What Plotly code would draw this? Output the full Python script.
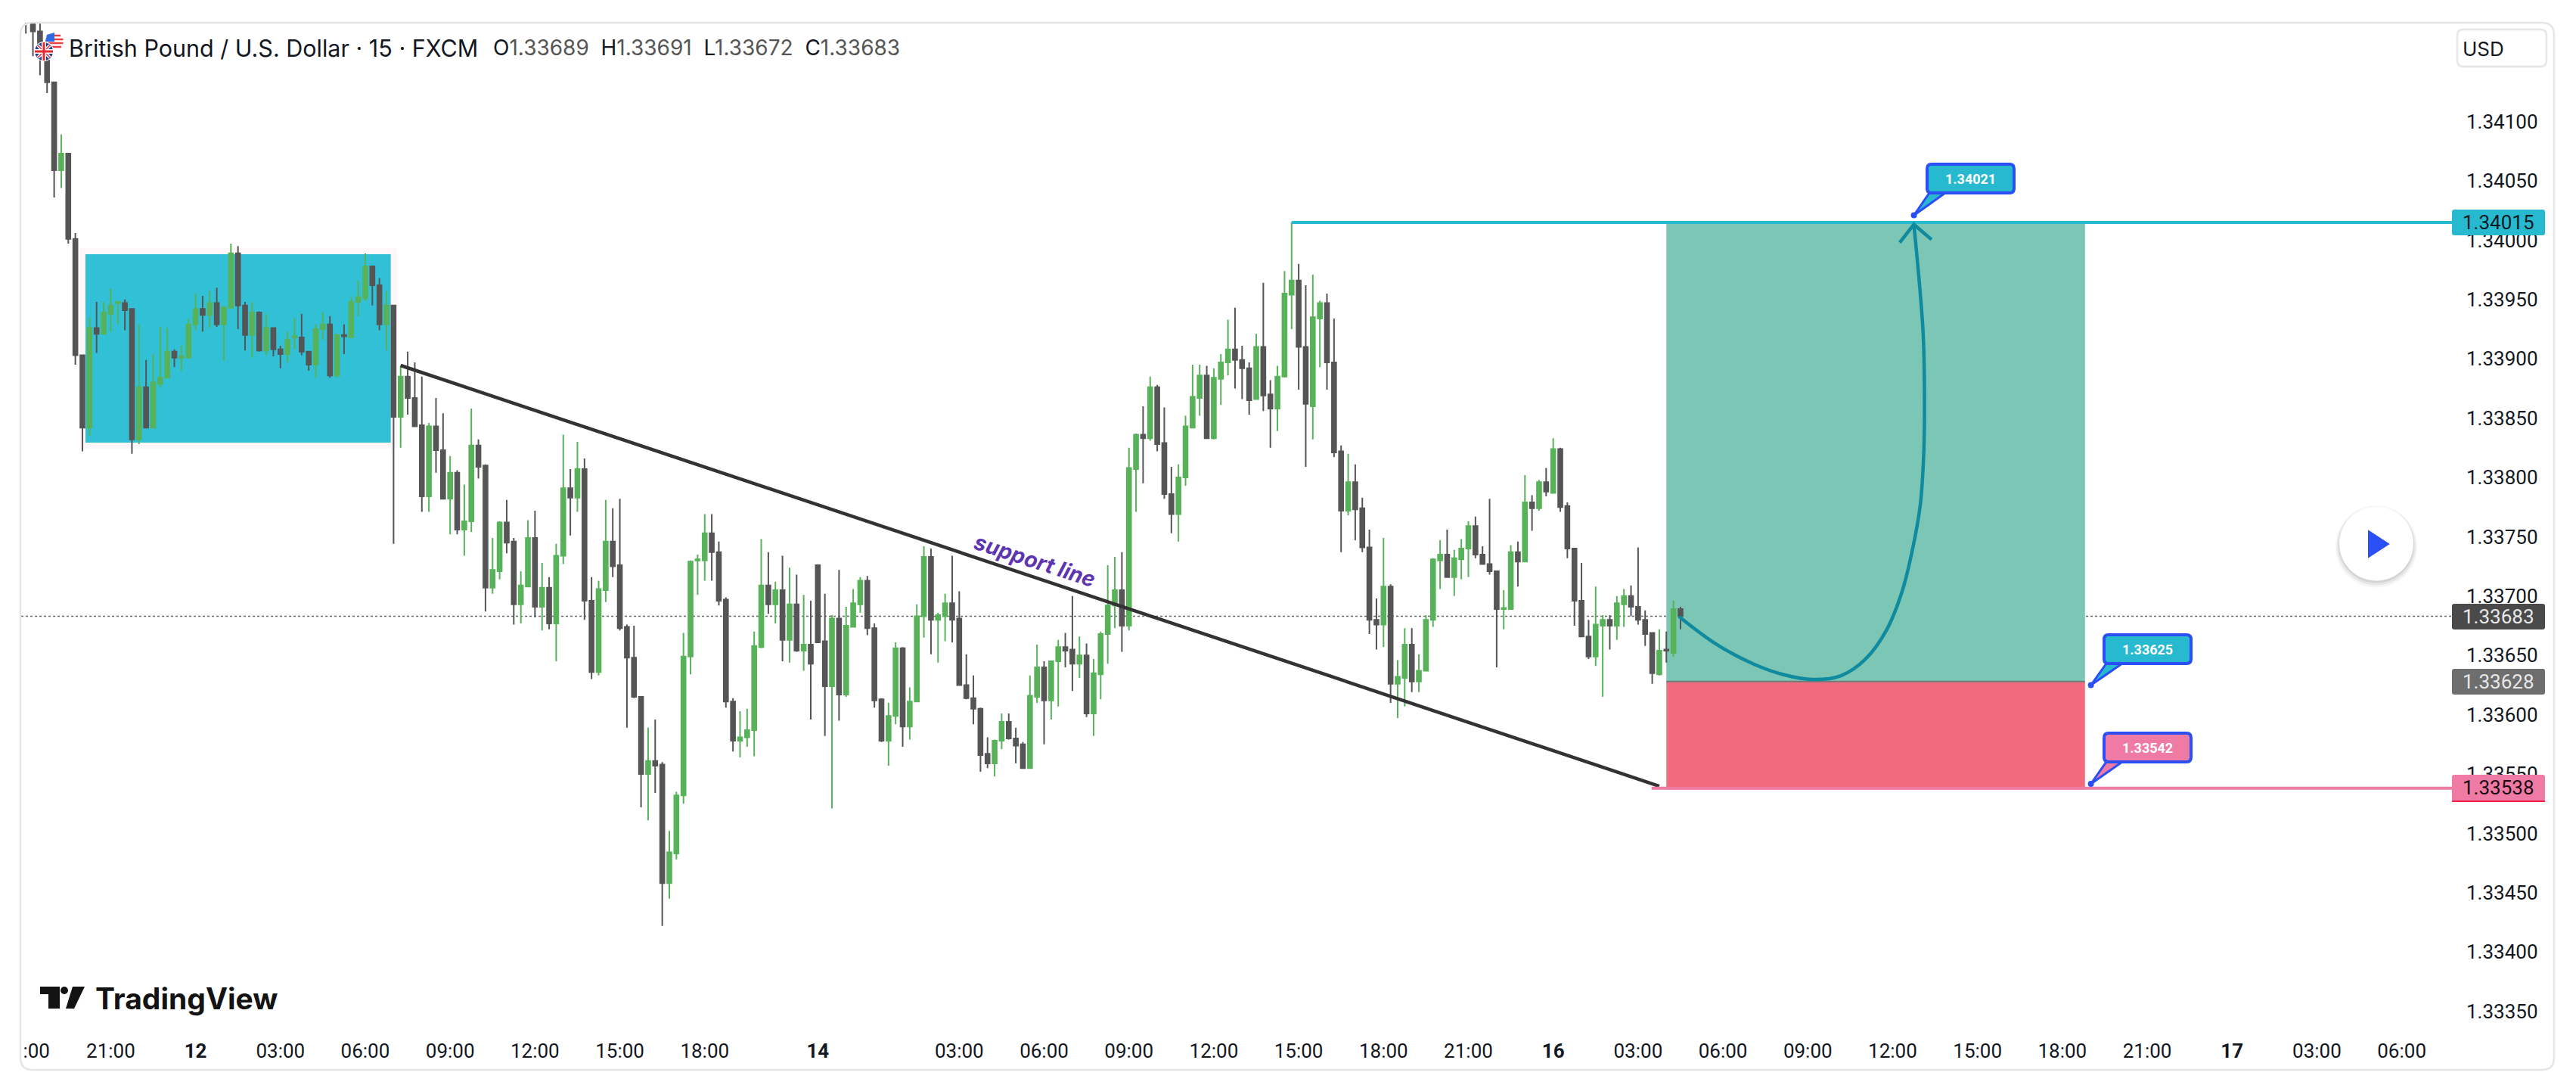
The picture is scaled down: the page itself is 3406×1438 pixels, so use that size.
import plotly.graph_objects as go

# GBP/USD 15m bars. x is the bar index.
opens = [
    1.34200, 1.34190, 1.34176, 1.34157, 1.34133, 1.34059, 1.34073, 1.34001, 1.33903, 1.33842,
    1.33926, 1.33921, 1.33938, 1.33947, 1.33947, 1.33942, 1.33832, 1.33876, 1.33842, 1.33879,
    1.33884, 1.33906, 1.33901, 1.33901, 1.33929, 1.33942, 1.33937, 1.33947, 1.33929, 1.33943,
    1.33989, 1.33945, 1.33920, 1.33939, 1.33907, 1.33926, 1.33908, 1.33904, 1.33918, 1.33918,
    1.33906, 1.33895, 1.33925, 1.33929, 1.33886, 1.33920, 1.33918, 1.33948, 1.33951, 1.33978,
    1.33962, 1.33929, 1.33945, 1.33851, 1.33885, 1.33867, 1.33844, 1.33784, 1.33843, 1.33823,
    1.33782, 1.33804, 1.33756, 1.33763, 1.33827, 1.33810, 1.33707, 1.33721, 1.33762, 1.33746,
    1.33693, 1.33708, 1.33749, 1.33691, 1.33707, 1.33677, 1.33734, 1.33791, 1.33783, 1.33807,
    1.33696, 1.33636, 1.33705, 1.33746, 1.33726, 1.33674, 1.33648, 1.33615, 1.33550, 1.33561,
    1.33558, 1.33458, 1.33483, 1.33532, 1.33649, 1.33730, 1.33730, 1.33753, 1.33737, 1.33697,
    1.33611, 1.33578, 1.33581, 1.33587, 1.33657, 1.33709, 1.33693, 1.33705, 1.33663, 1.33693,
    1.33654, 1.33659, 1.33726, 1.33662, 1.33624, 1.33681, 1.33617, 1.33674, 1.33693, 1.33713,
    1.33673, 1.33613, 1.33578, 1.33599, 1.33656, 1.33590, 1.33611, 1.33683, 1.33733, 1.33680,
    1.33683, 1.33694, 1.33681, 1.33625, 1.33614, 1.33605, 1.33567, 1.33559, 1.33578, 1.33594,
    1.33580, 1.33575, 1.33555, 1.33615, 1.33640, 1.33612, 1.33645, 1.33657, 1.33655, 1.33643,
    1.33650, 1.33601, 1.33634, 1.33668, 1.33692, 1.33705, 1.33675, 1.33807, 1.33836, 1.33833,
    1.33876, 1.33829, 1.33786, 1.33769, 1.33800, 1.33842, 1.33867, 1.33886, 1.33833, 1.33883,
    1.33897, 1.33908, 1.33899, 1.33892, 1.33866, 1.33910, 1.33870, 1.33858, 1.33885, 1.33954,
    1.33966, 1.33910, 1.33860, 1.33934, 1.33947, 1.33897, 1.33822, 1.33772, 1.33796, 1.33774,
    1.33741, 1.33680, 1.33676, 1.33708, 1.33626, 1.33631, 1.33659, 1.33628, 1.33637, 1.33680,
    1.33730, 1.33735, 1.33716, 1.33731, 1.33740, 1.33759, 1.33735, 1.33727, 1.33721, 1.33689,
    1.33689, 1.33737, 1.33729, 1.33779, 1.33774, 1.33796, 1.33787, 1.33824, 1.33776, 1.33740,
    1.33696, 1.33666, 1.33649, 1.33675, 1.33680, 1.33675, 1.33693, 1.33700, 1.33691, 1.33680,
    1.33669, 1.33634, 1.33655, 1.33652, 1.33689,
]
highs = [
    1.34210, 1.34195, 1.34190, 1.34160, 1.34133, 1.34089, 1.34073, 1.34006, 1.33903, 1.33935,
    1.33948, 1.33948, 1.33959, 1.33948, 1.33950, 1.33942, 1.33929, 1.33899, 1.33904, 1.33927,
    1.33926, 1.33908, 1.33911, 1.33934, 1.33955, 1.33953, 1.33957, 1.33960, 1.33945, 1.33997,
    1.33995, 1.33948, 1.33948, 1.33940, 1.33938, 1.33926, 1.33911, 1.33923, 1.33934, 1.33938,
    1.33906, 1.33929, 1.33939, 1.33936, 1.33921, 1.33929, 1.33952, 1.33966, 1.33989, 1.33978,
    1.33968, 1.33957, 1.33945, 1.33894, 1.33906, 1.33897, 1.33885, 1.33846, 1.33867, 1.33854,
    1.33818, 1.33806, 1.33794, 1.33858, 1.33832, 1.33811, 1.33749, 1.33763, 1.33781, 1.33749,
    1.33721, 1.33764, 1.33772, 1.33728, 1.33716, 1.33744, 1.33836, 1.33807, 1.33830, 1.33816,
    1.33716, 1.33713, 1.33781, 1.33774, 1.33782, 1.33676, 1.33675, 1.33615, 1.33589, 1.33596,
    1.33560, 1.33502, 1.33535, 1.33669, 1.33730, 1.33735, 1.33769, 1.33769, 1.33746, 1.33699,
    1.33614, 1.33603, 1.33605, 1.33670, 1.33748, 1.33737, 1.33712, 1.33734, 1.33724, 1.33718,
    1.33701, 1.33696, 1.33726, 1.33702, 1.33684, 1.33722, 1.33691, 1.33706, 1.33716, 1.33717,
    1.33677, 1.33614, 1.33610, 1.33661, 1.33657, 1.33623, 1.33693, 1.33742, 1.33740, 1.33686,
    1.33702, 1.33734, 1.33704, 1.33651, 1.33633, 1.33606, 1.33581, 1.33579, 1.33601, 1.33601,
    1.33589, 1.33577, 1.33633, 1.33659, 1.33645, 1.33645, 1.33663, 1.33669, 1.33700, 1.33666,
    1.33660, 1.33647, 1.33670, 1.33726, 1.33733, 1.33737, 1.33825, 1.33837, 1.33860, 1.33885,
    1.33878, 1.33859, 1.33809, 1.33811, 1.33852, 1.33895, 1.33895, 1.33894, 1.33892, 1.33904,
    1.33933, 1.33943, 1.33911, 1.33897, 1.33921, 1.33964, 1.33882, 1.33894, 1.33974, 1.34015,
    1.33980, 1.33962, 1.33971, 1.33949, 1.33955, 1.33934, 1.33827, 1.33820, 1.33811, 1.33783,
    1.33756, 1.33698, 1.33749, 1.33710, 1.33646, 1.33673, 1.33673, 1.33651, 1.33684, 1.33732,
    1.33747, 1.33756, 1.33739, 1.33748, 1.33763, 1.33767, 1.33742, 1.33782, 1.33721, 1.33705,
    1.33743, 1.33746, 1.33802, 1.33785, 1.33798, 1.33808, 1.33833, 1.33825, 1.33779, 1.33740,
    1.33728, 1.33680, 1.33708, 1.33684, 1.33684, 1.33700, 1.33706, 1.33709, 1.33741, 1.33688,
    1.33669, 1.33672, 1.33670, 1.33696, 1.33691,
]
lows = [
    1.34174, 1.34155, 1.34139, 1.34124, 1.34036, 1.34044, 1.33997, 1.33895, 1.33822, 1.33835,
    1.33905, 1.33921, 1.33923, 1.33929, 1.33924, 1.33820, 1.33828, 1.33842, 1.33842, 1.33876,
    1.33884, 1.33893, 1.33890, 1.33901, 1.33924, 1.33923, 1.33926, 1.33927, 1.33898, 1.33943,
    1.33925, 1.33907, 1.33901, 1.33906, 1.33903, 1.33902, 1.33892, 1.33897, 1.33908, 1.33903,
    1.33890, 1.33884, 1.33916, 1.33884, 1.33884, 1.33904, 1.33918, 1.33936, 1.33949, 1.33945,
    1.33924, 1.33907, 1.33744, 1.33825, 1.33853, 1.33843, 1.33771, 1.33771, 1.33804, 1.33782,
    1.33752, 1.33752, 1.33734, 1.33754, 1.33799, 1.33687, 1.33702, 1.33714, 1.33736, 1.33676,
    1.33677, 1.33708, 1.33682, 1.33671, 1.33672, 1.33645, 1.33727, 1.33751, 1.33771, 1.33680,
    1.33630, 1.33633, 1.33695, 1.33716, 1.33671, 1.33589, 1.33614, 1.33522, 1.33511, 1.33534,
    1.33422, 1.33445, 1.33478, 1.33525, 1.33634, 1.33701, 1.33713, 1.33713, 1.33692, 1.33606,
    1.33569, 1.33564, 1.33573, 1.33565, 1.33656, 1.33685, 1.33677, 1.33645, 1.33644, 1.33653,
    1.33637, 1.33596, 1.33661, 1.33582, 1.33521, 1.33595, 1.33615, 1.33674, 1.33686, 1.33667,
    1.33606, 1.33577, 1.33557, 1.33592, 1.33573, 1.33579, 1.33611, 1.33665, 1.33651, 1.33644,
    1.33662, 1.33661, 1.33625, 1.33613, 1.33592, 1.33552, 1.33555, 1.33548, 1.33571, 1.33579,
    1.33559, 1.33555, 1.33555, 1.33610, 1.33575, 1.33596, 1.33607, 1.33640, 1.33620, 1.33631,
    1.33598, 1.33582, 1.33613, 1.33643, 1.33673, 1.33653, 1.33671, 1.33771, 1.33795, 1.33831,
    1.33822, 1.33782, 1.33753, 1.33746, 1.33793, 1.33842, 1.33852, 1.33833, 1.33832, 1.33861,
    1.33886, 1.33875, 1.33866, 1.33853, 1.33866, 1.33856, 1.33825, 1.33839, 1.33885, 1.33925,
    1.33874, 1.33809, 1.33832, 1.33893, 1.33874, 1.33817, 1.33737, 1.33768, 1.33747, 1.33737,
    1.33668, 1.33655, 1.33657, 1.33610, 1.33597, 1.33607, 1.33619, 1.33619, 1.33637, 1.33674,
    1.33706, 1.33716, 1.33700, 1.33714, 1.33716, 1.33732, 1.33727, 1.33718, 1.33640, 1.33672,
    1.33689, 1.33708, 1.33729, 1.33755, 1.33772, 1.33784, 1.33787, 1.33771, 1.33732, 1.33675,
    1.33666, 1.33647, 1.33641, 1.33615, 1.33655, 1.33663, 1.33674, 1.33683, 1.33676, 1.33658,
    1.33626, 1.33633, 1.33644, 1.33649, 1.33672,
]
closes = [
    1.34190, 1.34176, 1.34157, 1.34133, 1.34059, 1.34073, 1.34001, 1.33903, 1.33842, 1.33926,
    1.33921, 1.33939, 1.33945, 1.33948, 1.33941, 1.33832, 1.33876, 1.33842, 1.33880, 1.33884,
    1.33906, 1.33901, 1.33902, 1.33929, 1.33942, 1.33937, 1.33947, 1.33929, 1.33943, 1.33989,
    1.33945, 1.33920, 1.33939, 1.33907, 1.33926, 1.33908, 1.33904, 1.33916, 1.33919, 1.33906,
    1.33895, 1.33925, 1.33929, 1.33886, 1.33920, 1.33919, 1.33948, 1.33952, 1.33978, 1.33962,
    1.33929, 1.33945, 1.33851, 1.33885, 1.33867, 1.33843, 1.33784, 1.33843, 1.33823, 1.33782,
    1.33804, 1.33756, 1.33763, 1.33827, 1.33809, 1.33707, 1.33722, 1.33762, 1.33745, 1.33693,
    1.33709, 1.33749, 1.33691, 1.33707, 1.33677, 1.33734, 1.33791, 1.33783, 1.33807, 1.33696,
    1.33636, 1.33706, 1.33746, 1.33725, 1.33673, 1.33648, 1.33615, 1.33550, 1.33561, 1.33557,
    1.33458, 1.33484, 1.33532, 1.33649, 1.33729, 1.33731, 1.33753, 1.33737, 1.33696, 1.33611,
    1.33578, 1.33581, 1.33587, 1.33658, 1.33709, 1.33693, 1.33705, 1.33663, 1.33693, 1.33654,
    1.33659, 1.33643, 1.33661, 1.33624, 1.33681, 1.33617, 1.33675, 1.33694, 1.33713, 1.33673,
    1.33612, 1.33578, 1.33599, 1.33656, 1.33590, 1.33611, 1.33683, 1.33733, 1.33680, 1.33684,
    1.33694, 1.33680, 1.33625, 1.33614, 1.33605, 1.33566, 1.33559, 1.33578, 1.33594, 1.33580,
    1.33574, 1.33555, 1.33616, 1.33640, 1.33612, 1.33645, 1.33657, 1.33654, 1.33643, 1.33650,
    1.33601, 1.33635, 1.33668, 1.33692, 1.33705, 1.33675, 1.33808, 1.33836, 1.33833, 1.33876,
    1.33828, 1.33786, 1.33769, 1.33800, 1.33843, 1.33868, 1.33886, 1.33833, 1.33884, 1.33897,
    1.33908, 1.33899, 1.33892, 1.33865, 1.33910, 1.33869, 1.33858, 1.33885, 1.33955, 1.33966,
    1.33910, 1.33862, 1.33935, 1.33947, 1.33897, 1.33821, 1.33772, 1.33796, 1.33773, 1.33741,
    1.33680, 1.33676, 1.33708, 1.33626, 1.33632, 1.33659, 1.33628, 1.33637, 1.33680, 1.33731,
    1.33735, 1.33716, 1.33732, 1.33740, 1.33759, 1.33735, 1.33727, 1.33721, 1.33689, 1.33690,
    1.33737, 1.33729, 1.33779, 1.33774, 1.33796, 1.33788, 1.33824, 1.33775, 1.33740, 1.33696,
    1.33666, 1.33649, 1.33676, 1.33680, 1.33675, 1.33694, 1.33700, 1.33691, 1.33680, 1.33668,
    1.33635, 1.33654, 1.33654, 1.33689, 1.33683,
]

time_tick_pos = [1.5, 12, 24, 36, 48, 60, 72, 84, 96, 112, 132, 144, 156, 168, 180, 192, 204,
                 216, 228, 240, 252, 264, 276, 288, 300, 312, 324, 336]
time_tick_text = [":00", "21:00", "<b>12</b>", "03:00", "06:00", "09:00", "12:00", "15:00", "18:00",
                  "<b>14</b>", "03:00", "06:00", "09:00", "12:00", "15:00", "18:00", "21:00",
                  "<b>16</b>", "03:00", "06:00", "09:00", "12:00", "15:00", "18:00", "21:00",
                  "<b>17</b>", "03:00", "06:00"]
price_ticks = [1.33350, 1.33400, 1.33450, 1.33500, 1.33550, 1.33600, 1.33650, 1.33700, 1.33750,
               1.33800, 1.33850, 1.33900, 1.33950, 1.34000, 1.34050, 1.34100]

# drawings on the chart, in bar index / price
trend_x = [53, 231]
trend_y = [1.338944, 1.335398]
target_x = [179, 344]
target_y = [1.34015, 1.34015]
stop_x = [229.9, 344]
stop_y = [1.33538, 1.33538]
curve_x = [233.8, 239.1, 244.3, 248.6, 252.7, 256.7, 260.1, 263.2, 265.3, 266.7, 267.9, 268.4, 268.5, 268.3, 267.0]
curve_y = [1.336827, 1.336593, 1.336428, 1.336337, 1.336297, 1.336329, 1.336465, 1.336721, 1.337032,
           1.337362, 1.337764, 1.338204, 1.33868, 1.339229, 1.340133]
arrow_x = [265, 267, 269.5]
arrow_y = [1.33998, 1.340133, 1.340005]

UP = "#57B25A"
DOWN = "#555555"
TEAL = "#26B9D0"
PINK = "#EF7BA5"
BLUE = "#2A4FF5"
TEXT = "#131722"

# the page has an 8px body margin, so the figure is 16px smaller than the window
FIG_W, FIG_H = 3390, 1422
LEFT, RIGHT, TOP, BOTTOM = 28, 3242, 30, 1365


def px(x):
    return (x - LEFT) / (RIGHT - LEFT)


def py(y):
    return (BOTTOM - y) / (BOTTOM - TOP)


def pt(x, y):
    return f"{px(x):.6f} {py(y):.6f}"


def rounded_path(x0, y0, x1, y1, r):
    return (
        f"M {pt(x0 + r, y0)} L {pt(x1 - r, y0)} Q {pt(x1, y0)} {pt(x1, y0 + r)} "
        f"L {pt(x1, y1 - r)} Q {pt(x1, y1)} {pt(x1 - r, y1)} "
        f"L {pt(x0 + r, y1)} Q {pt(x0, y1)} {pt(x0, y1 - r)} "
        f"L {pt(x0, y0 + r)} Q {pt(x0, y0)} {pt(x0 + r, y0)} Z"
    )


def poly_path(points):
    return "M " + " L ".join(pt(x, y) for x, y in points) + " Z"


def paper_path(path, fill, line=None, width=0, layer="above"):
    return dict(type="path", xref="paper", yref="paper", path=path, fillcolor=fill,
                line=dict(color=line or "rgba(0,0,0,0)", width=width), layer=layer)


def circle(cx, cy, r, fill, line=None, width=0):
    return dict(type="circle", xref="paper", yref="paper", x0=px(cx - r), x1=px(cx + r),
                y0=py(cy + r), y1=py(cy - r), fillcolor=fill,
                line=dict(color=line or "rgba(0,0,0,0)", width=width), layer="above")


def seg(x0, y0, x1, y1, color, width):
    return dict(type="line", xref="paper", yref="paper", x0=px(x0), x1=px(x1), y0=py(y0), y1=py(y1),
                line=dict(color=color, width=width), layer="above")


def label(x, y, text, size, color=TEXT, family="Roboto", anchor="left", angle=0):
    return dict(xref="paper", yref="paper", x=px(x), y=py(y), text=text, showarrow=False,
                xanchor=anchor, yanchor="middle", textangle=angle,
                font=dict(family=family, size=size, color=color))


def rect(x0, x1, y0, y1, fill):
    return dict(type="rect", xref="x", yref="y", x0=x0, x1=x1, y0=y0, y1=y1,
                fillcolor=fill, line=dict(width=0), layer="below")


fig = go.Figure()
fig.add_trace(go.Candlestick(
    x=list(range(len(opens))), open=opens, high=highs, low=lows, close=closes,
    increasing=dict(line=dict(color=UP, width=2), fillcolor=UP),
    decreasing=dict(line=dict(color=DOWN, width=2), fillcolor=DOWN),
    whiskerwidth=0, showlegend=False, hoverinfo="skip",
))
for xs, ys, color, width in [
    (trend_x, trend_y, "#333333", 4.5),
    (target_x, target_y, TEAL, 4),
    (stop_x, stop_y, PINK, 4),
    (curve_x, curve_y, "#0F8A9E", 4.5),
    (arrow_x, arrow_y, "#0F8A9E", 4.5),
]:
    fig.add_trace(go.Scatter(
        x=xs, y=ys, mode="lines", showlegend=False, hoverinfo="skip",
        line=dict(color=color, width=width, shape="spline" if xs is curve_x else "linear"),
    ))

shapes = [
    # consolidation box with its faint halo
    rect(7.6, 52.5, 1.338242, 1.339932, "#FDF7F9"),
    rect(8.43, 51.6, 1.338293, 1.339881, "#31C0D5"),
    # long position
    rect(232, 291.2, 1.33628, 1.34015, "#7BC6B5"),
    rect(232, 291.2, 1.33537, 1.33628, "#F26B7C"),
    dict(type="line", xref="x", yref="y", x0=232, x1=291.2, y0=1.33628, y1=1.33628,
         line=dict(color="#6F7B78", width=2), layer="below"),
    # last price
    dict(type="line", xref="paper", yref="y", x0=0, x1=1, y0=1.33683, y1=1.33683,
         line=dict(color="#666666", width=1.5, dash="dot"), layer="below"),
    # outer frame and currency button
    paper_path(rounded_path(27, 30, 3377, 1414, 16), "rgba(0,0,0,0)", "#E6E6E6", 2.5),
    paper_path(rounded_path(3249, 39, 3367, 88, 8), "#FFFFFF", "#E6E6E6", 2.5),
]

# price pills
for y0, y1, fill in [(277, 311, TEAL), (798, 832, "#4A4A4A"), (884, 918, "#6E6E6E"), (1024, 1059, PINK)]:
    shapes.append(paper_path(rounded_path(RIGHT, y0, 3365, y1, 3), fill))
shapes.append(seg(RIGHT, 1059, 3365, 1059, "#EE2044", 2))

# callouts: box, tail and anchor dot
for x0, y0, dot_x, dot_y, fill in [
    (2548, 217, 2530.6, 284.5, TEAL),
    (2782, 839, 2764.6, 905.6, TEAL),
    (2782, 969, 2764.6, 1036, PINK),
]:
    x1, y1 = x0 + 115, y0 + 38
    shapes.append(paper_path(poly_path([(x0 + 3, y1), (x0 + 24, y1), (dot_x, dot_y)]), fill, BLUE, 3))
    shapes.append(paper_path(rounded_path(x0, y0, x1, y1, 6), fill, BLUE, 4))
    shapes.append(circle(dot_x, dot_y, 4, BLUE))

# play button
for grow, offset, alpha in [(5, 4, 0.04), (3, 3, 0.06), (1, 2, 0.08)]:
    shapes.append(circle(3142, 718.5 + offset, 49 + grow, f"rgba(0,0,0,{alpha})"))
shapes.append(circle(3142, 718.5, 49, "#FFFFFF"))
shapes.append(paper_path(poly_path([(3132, 702), (3158, 719), (3132, 736)]), BLUE, BLUE, 2))

# TradingView mark
shapes.append(paper_path(poly_path([(53, 1304), (79, 1304), (79, 1333), (64, 1333), (64, 1314), (53, 1314)]), "#131313"))
shapes.append(circle(85, 1309, 5, "#131313"))
shapes.append(paper_path(poly_path([(96, 1304), (112, 1304), (98, 1333), (87, 1333)]), "#131313"))

# currency flags
shapes.append(circle(72, 55, 12, "#FFFFFF"))
for stripe_y, half in [(47, 8), (52, 11.5), (57, 11.5), (62, 9)]:
    shapes.append(seg(72 - half, stripe_y, 72 + half, stripe_y, "#EF3E42", 2.5))
shapes.append(paper_path(poly_path([(62, 46), (72, 43), (72, 55), (60, 55)]), "#2F6BE0"))
shapes.append(circle(58, 68, 13, "#FFFFFF"))
shapes.append(circle(58, 68, 12, "#25408F"))
shapes.append(seg(50, 60, 66, 76, "#FFFFFF", 4))
shapes.append(seg(50, 76, 66, 60, "#FFFFFF", 4))
shapes.append(seg(50, 60, 66, 76, "#E4282F", 1.5))
shapes.append(seg(50, 76, 66, 60, "#E4282F", 1.5))
shapes.append(seg(46, 68, 70, 68, "#FFFFFF", 6))
shapes.append(seg(58, 56, 58, 80, "#FFFFFF", 6))
shapes.append(seg(46, 68, 70, 68, "#E4282F", 3))
shapes.append(seg(58, 56, 58, 80, "#E4282F", 3))

GREY = "#555555"
annotations = [
    label(89, 63, "British Pound / U.S. Dollar · 15 · FXCM", 30.5, family="Inter"),
    label(650, 63, f'O<span style="color:{GREY}">1.33689</span>  H<span style="color:{GREY}">1.33691</span>'
                   f'  L<span style="color:{GREY}">1.33672</span>  C<span style="color:{GREY}">1.33683</span>',
          28, family="Inter"),
    label(3254, 65, "USD", 26, family="Inter"),
    label(124, 1319, "<b>TradingView</b>", 39, color="#131313", family="Inter"),
    label(1368, 741, "<b><i>support line</i></b>", 28.5, color="#5E35B1", family="Inter", anchor="center", angle=18),
    label(3303, 294, "1.34015", 26, color="#0B1A22", anchor="center"),
    label(3303, 815, "1.33683", 26, color="#E8E8E8", anchor="center"),
    label(3303, 901, "1.33628", 26, color="#E8E8E8", anchor="center"),
    label(3303, 1041, "1.33538", 26, color="#1A0B12", anchor="center"),
    label(2605.5, 236, "<b>1.34021</b>", 18, color="#FFFFFF", anchor="center"),
    label(2839.5, 858, "<b>1.33625</b>", 18, color="#FFFFFF", anchor="center"),
    label(2839.5, 988, "<b>1.33542</b>", 18, color="#FFFFFF", anchor="center"),
]

fig.update_layout(
    width=FIG_W, height=FIG_H,
    margin=dict(l=LEFT - 8, r=FIG_W - (RIGHT - 8), t=TOP - 8, b=FIG_H - (BOTTOM - 8), pad=0),
    paper_bgcolor="#FFFFFF", plot_bgcolor="#FFFFFF",
    showlegend=False, boxgap=0.4, boxgroupgap=0,
    font=dict(family="Roboto", size=26, color=TEXT),
    xaxis=dict(
        range=[-0.663, 343.1], rangeslider=dict(visible=False), showgrid=False, zeroline=False,
        showline=False, ticks="", tickmode="array", tickvals=time_tick_pos, ticktext=time_tick_text,
        tickfont=dict(family="Roboto", size=26, color=TEXT), ticklabelstandoff=6,
    ),
    yaxis=dict(
        range=[1.333319, 1.341833], side="right", showgrid=False, zeroline=False, showline=False,
        ticks="", tickmode="array", tickvals=price_ticks, ticktext=[f"{p:.5f}" for p in price_ticks],
        tickfont=dict(family="Roboto", size=26, color=TEXT), ticklabelstandoff=18,
    ),
    shapes=shapes,
    annotations=annotations,
)

fig.write_html("out.html")
